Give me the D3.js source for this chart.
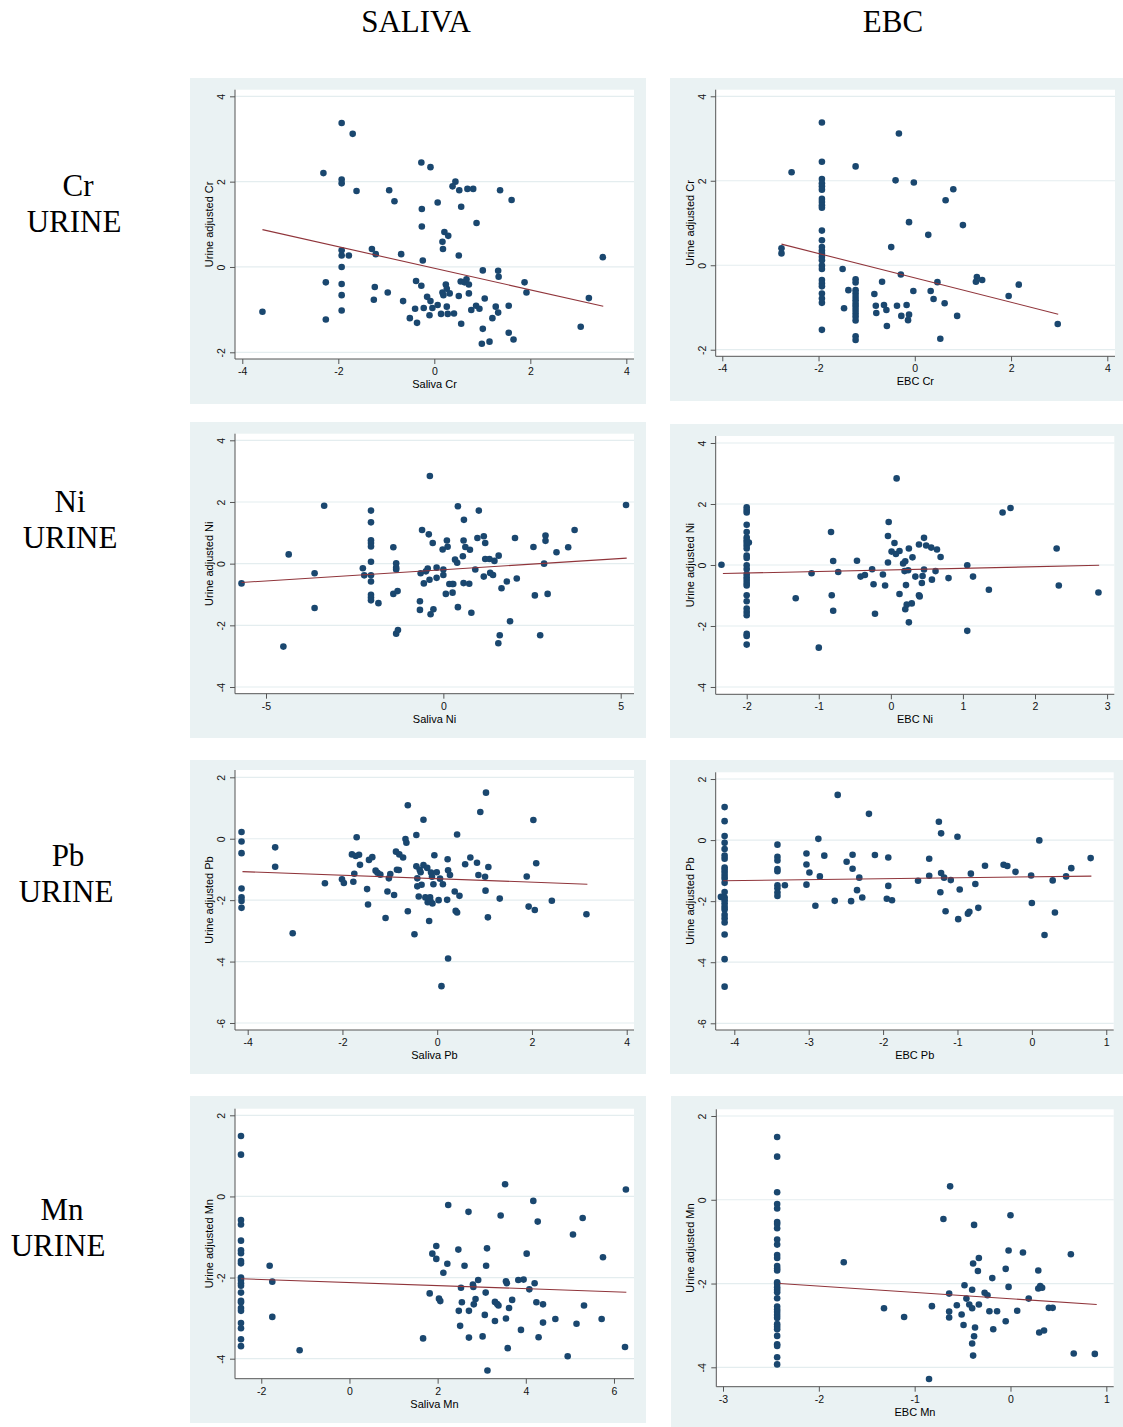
<!DOCTYPE html>
<html>
<head>
<meta charset="utf-8">
<script src="https://cdn.jsdelivr.net/npm/d3@7"></script>
<style>
  body { margin: 0; background: white; }
  svg { display: block; }
</style>
</head>
<body>
<div id="container"></div>
<script>
// column / row headings
const colTitles = ["SALIVA", "EBC"];
const rowMetals = ["Cr", "Ni", "Pb", "Mn"];

// axis titles
const xTitles = ["Saliva Cr", "EBC Cr", "Saliva Ni", "EBC Ni", "Saliva Pb", "EBC Pb", "Saliva Mn", "EBC Mn"];
const yTitles = ["Urine adjusted Cr", "Urine adjusted Cr", "Urine adjusted Ni", "Urine adjusted Ni",
                 "Urine adjusted Pb", "Urine adjusted Pb", "Urine adjusted Mn", "Urine adjusted Mn"];

// tick values
const xTicks = [
  [-4, -2, 0, 2, 4], [-4, -2, 0, 2, 4],
  [-5, 0, 5], [-2, -1, 0, 1, 2, 3],
  [-4, -2, 0, 2, 4], [-4, -3, -2, -1, 0, 1],
  [-2, 0, 2, 4, 6], [-3, -2, -1, 0, 1]
];
const yTicks = [
  [-2, 0, 2, 4], [-2, 0, 2, 4],
  [-4, -2, 0, 2, 4], [-4, -2, 0, 2, 4],
  [-6, -4, -2, 0, 2], [-6, -4, -2, 0, 2],
  [-4, -2, 0, 2], [-4, -2, 0, 2]
];

// scatter points [x, y]
const salivaCr = [[-1.93,3.375],[-1.70,3.12],[-2.31,2.20],[-1.93,2.05],[-1.93,1.96],[-1.62,1.78],[-0.94,1.80],[-0.83,1.54],
  [-0.27,2.45],[-0.08,2.34],[-0.26,1.36],[0.07,1.51],[0.44,2.0],[0.38,1.89],[0.52,1.80],[0.69,1.83],[0.81,1.83],[0.56,1.41],
  [1.37,1.80],[1.61,1.57],[0.88,1.03],[-0.26,0.95],[0.21,0.82],[0.29,0.73],[0.17,0.59],[0.18,0.42],[0.51,0.27],[-0.24,0.15],
  [-0.69,0.30],[-1.30,0.42],[-1.22,0.30],[-1.93,0.39],[-1.93,0.27],[-1.78,0.27],[-1.93,0.0],[-3.58,-1.05],[-2.26,-0.36],
  [-2.26,-1.23],[-1.93,-0.40],[-1.93,-0.66],[-1.93,-1.02],[-1.24,-0.47],[-1.26,-0.77],[-0.97,-0.60],[-0.65,-0.80],[-0.38,-0.33],
  [-0.27,-0.44],[-0.40,-0.98],[-0.36,-1.31],[-0.51,-1.20],[-0.22,-0.96],[-0.15,-0.70],[-0.08,-0.80],[-0.04,-0.96],[-0.10,-1.13],
  [0.07,-0.89],[0.14,-1.10],[0.17,-0.60],[0.19,-0.66],[0.24,-0.41],[0.26,-0.51],[0.32,-0.62],[0.26,-0.93],[0.28,-1.10],
  [0.41,-1.09],[0.51,-0.68],[0.55,-0.34],[0.63,-0.36],[0.67,-0.29],[0.72,-0.41],[0.72,-0.62],[0.56,-1.33],[0.77,-1.01],
  [0.87,-0.91],[0.94,-0.98],[1.01,-0.08],[1.05,-0.74],[1.01,-1.45],[0.99,-1.80],[1.15,-1.75],[1.21,-1.20],[1.28,-0.93],
  [1.33,-0.09],[1.34,-0.23],[1.33,-1.07],[1.55,-0.91],[1.55,-1.54],[1.65,-1.70],[1.88,-0.36],[1.92,-0.60],[3.22,-0.73],
  [3.05,-1.40],[3.51,0.23]];

const ebcCr = [[-1.93,3.38],[-0.33,3.12],[-2.56,2.20],[-1.93,2.45],[-1.23,2.34],[-0.40,2.01],[-0.02,1.96],[0.80,1.80],
  [0.64,1.54],[-0.12,1.02],[1.0,0.95],[0.28,0.72],[-0.49,0.43],[-2.77,0.40],[-2.77,0.28],
  [-1.93,2.04],[-1.93,1.94],[-1.93,1.87],[-1.93,1.79],[-1.93,1.57],[-1.93,1.50],[-1.93,1.42],[-1.93,1.36],[-1.93,0.82],
  [-1.93,0.59],[-1.93,0.43],[-1.93,0.35],[-1.93,0.28],[-1.93,0.20],[-1.93,0.12],[-1.93,-0.01],[-1.93,-0.09],[-1.93,-0.35],
  [-1.93,-0.43],[-1.93,-0.50],[-1.93,-0.67],[-1.93,-0.79],[-1.93,-0.89],[-1.93,-1.53],
  [-1.23,-0.33],[-1.23,-0.41],[-1.23,-0.59],[-1.23,-0.67],[-1.23,-0.75],[-1.23,-0.83],[-1.23,-0.91],[-1.23,-0.98],
  [-1.23,-1.06],[-1.23,-1.14],[-1.23,-1.22],[-1.23,-1.31],[-1.23,-1.68],[-1.23,-1.77],
  [-1.50,-0.09],[-1.38,-0.59],[-1.47,-1.02],[-0.84,-0.68],[-0.81,-0.96],[-0.80,-1.13],[-0.68,-0.39],[-0.64,-0.94],
  [-0.59,-1.06],[-0.58,-1.44],[-0.37,-0.96],[-0.29,-0.22],[-0.28,-1.20],[-0.17,-0.94],[-0.14,-1.30],[-0.12,-1.17],
  [-0.03,-0.61],[0.33,-0.61],[0.39,-0.80],[0.47,-0.40],[0.62,-0.90],[0.53,-1.74],[0.88,-1.20],[1.29,-0.28],[1.27,-0.39],
  [1.40,-0.35],[1.95,-0.73],[2.16,-0.46],[2.97,-1.39]];

const salivaNi = [[-5.69,-0.64],[-4.51,-2.69],[-4.36,0.30],[-3.63,-0.31],[-3.63,-1.44],[-3.36,1.88],[-2.27,-0.15],[-2.23,-0.38],
  [-2.04,1.72],[-2.04,1.34],[-2.04,0.76],[-2.04,0.67],[-2.04,0.56],[-2.04,0.06],[-2.04,-0.38],[-2.04,-0.58],[-2.04,-1.01],
  [-2.04,-1.10],[-2.04,-1.19],[-1.83,-1.28],[-1.41,0.53],[-1.33,0.01],[-1.33,-0.13],[-1.33,-0.19],[-1.41,-0.98],[-1.29,-0.89],
  [-1.33,-2.27],[-1.28,-2.15],[-0.66,-1.22],[-0.66,-1.50],[-0.64,-0.31],[-0.60,1.09],[-0.55,-0.64],[-0.49,-0.25],[-0.44,-0.16],
  [-0.41,0.95],[-0.39,-0.52],[-0.38,2.84],[-0.36,-1.64],[-0.30,0.67],[-0.28,-1.48],[-0.19,-0.13],[-0.19,-0.46],[-0.02,0.46],
  [0,-0.19],[0,-0.37],[0.07,-0.98],[0.10,0.75],[0.12,0.55],[0.17,-0.66],[0.25,-0.66],[0.26,-0.94],[0.28,-0.66],[0.33,0.13],
  [0.39,0.03],[0.41,1.86],[0.41,-1.41],[0.55,0.24],[0.57,0.75],[0.58,1.42],[0.57,-0.63],[0.62,0.54],[0.73,-0.65],[0.75,0.45],
  [0.79,-1.59],[0.90,-0.19],[0.96,0.83],[1.00,1.72],[1.14,0.89],[1.14,-0.42],[1.18,0.67],[1.18,0.15],[1.30,0.15],[1.32,-0.30],
  [1.40,-0.37],[1.44,0.09],[1.56,0.26],[1.55,-2.58],[1.59,-2.32],[1.64,-0.80],[1.79,-0.58],[1.88,-1.87],[2.02,0.83],
  [2.07,-0.48],[2.54,0.54],[2.58,-1.03],[2.73,-2.32],[2.84,0.0],[2.88,0.91],[2.88,0.74],[2.94,-0.98],[3.19,0.37],[3.52,0.53],
  [3.70,1.09],[5.15,1.90]];

const ebcNi = [[-2.35,0.01],
  [-2,1.89],[-2,1.80],[-2,1.72],[-2,1.32],[-2,1.08],[-2,0.90],[-2,0.81],[-2,0.73],[-2,0.64],[-2,0.54],[-2,0.31],[-2,0.23],
  [-2,-0.01],[-2,-0.13],[-2,-0.30],[-2,-0.40],[-2,-0.49],[-2,-0.59],[-2,-0.67],[-2,-0.99],[-2,-1.19],[-2,-1.43],[-2,-1.54],
  [-2,-1.65],[-2,-2.26],[-2,-2.33],[-2,-2.61],[-1.97,0.74],
  [-1.32,-1.09],[-1.10,-0.27],[-1.00,-2.71],[-0.83,1.08],[-0.80,0.13],[-0.82,-0.99],[-0.80,-1.50],[-0.73,-0.23],[-0.47,0.14],
  [-0.42,-0.38],[-0.36,-0.33],[-0.26,-0.14],[-0.24,-0.63],[-0.22,-1.60],[-0.11,-0.31],[-0.08,-0.67],[-0.04,0.08],[-0.04,0.95],
  [-0.03,1.41],[0.01,0.44],[0.05,0.72],[0.07,0.36],[0.08,2.84],[0.12,0.46],[0.12,-0.95],[0.17,0.05],[0.19,-0.20],[0.20,0.12],
  [0.21,-0.66],[0.20,-1.45],[0.22,-1.30],[0.24,-0.17],[0.25,0.54],[0.25,-1.88],[0.29,-1.26],[0.30,0.25],[0.34,-0.38],
  [0.39,0.67],[0.39,-0.99],[0.40,-1.03],[0.43,-0.59],[0.44,-0.36],[0.46,-0.15],[0.46,0.89],[0.49,0.64],[0.56,0.57],
  [0.57,-0.48],[0.62,-0.20],[0.64,0.51],[0.69,0.26],[0.80,-0.43],[1.06,-0.01],[1.06,-2.16],[1.14,-0.38],[1.36,-0.81],
  [1.55,1.72],[1.66,1.87],[2.30,0.54],[2.33,-0.67],[2.88,-0.90]];

const salivaPb = [[-4.13,0.22],[-4.13,-0.09],[-4.13,-0.47],[-4.13,-1.62],[-4.13,-1.91],[-4.13,-2.03],[-4.13,-2.25],
  [-3.42,-0.28],[-3.42,-0.91],[-3.05,-3.08],[-2.37,-1.45],[-2.01,-1.32],[-1.97,-1.44],[-1.80,-0.51],[-1.77,-1.40],
  [-1.75,-1.14],[-1.72,-0.56],[-1.70,0.05],[-1.65,-0.52],[-1.63,-0.85],[-1.48,-1.64],[-1.46,-2.14],[-1.44,-0.69],
  [-1.37,-0.60],[-1.30,-1.04],[-1.26,-1.11],[-1.20,-1.17],[-1.09,-2.58],[-1.05,-1.72],[-1.02,-1.29],[-0.99,-1.15],
  [-0.91,-1.83],[-0.87,-0.42],[-0.85,-1.01],[-0.81,-1.02],[-0.80,-0.51],[-0.72,-0.61],[-0.67,-0.01],[-0.65,-0.13],
  [-0.62,1.09],[-0.62,-2.36],[-0.48,-3.11],[-0.44,0.12],[-0.44,-0.90],[-0.42,-1.29],[-0.42,-1.55],[-0.39,-1.88],
  [-0.37,-1.01],[-0.35,-1.09],[-0.33,-1.50],[-0.29,0.62],[-0.29,-0.86],[-0.25,-1.91],[-0.21,-0.95],[-0.20,-2.07],
  [-0.17,-2.68],[-0.15,-1.91],[-0.14,-2.04],[-0.13,-1.10],[-0.11,-1.24],[-0.10,-2.11],[-0.08,-1.48],[-0.06,-0.54],
  [-0.01,-1.09],[0.03,-2.0],[0.06,-1.30],[0.09,-4.80],[0.12,-1.48],[0.21,-1.99],[0.22,-0.67],[0.23,-1.03],[0.23,-3.90],
  [0.27,-1.18],[0.37,-1.72],[0.39,-2.35],[0.42,-2.40],[0.42,0.14],[0.47,-1.86],[0.59,-0.83],[0.70,-0.61],[0.84,-0.78],
  [0.87,-1.18],[0.91,0.87],[1.01,-1.24],[1.02,-1.69],[1.03,1.50],[1.07,-2.56],[1.08,-0.92],[1.32,-1.95],[1.89,-1.23],
  [1.93,-2.21],[2.03,0.61],[2.06,-2.32],[2.09,-0.80],[2.42,-2.02],[3.15,-2.46]];

const ebcPb = [[-4.13,1.08],[-4.13,0.62],[-4.13,0.13],[-4.13,-0.09],[-4.13,-0.29],[-4.13,-0.51],[-4.13,-0.61],[-4.13,-0.90],
  [-4.13,-0.98],[-4.13,-1.07],[-4.13,-1.17],[-4.13,-1.26],[-4.13,-1.40],[-4.13,-1.70],[-4.13,-1.88],[-4.13,-1.97],
  [-4.13,-2.07],[-4.13,-2.18],[-4.13,-2.27],[-4.13,-2.45],[-4.13,-2.57],[-4.13,-2.70],[-4.13,-3.09],[-4.13,-3.90],
  [-4.13,-4.80],[-4.18,-1.86],
  [-3.42,-0.15],[-3.42,-0.55],[-3.42,-0.67],[-3.42,-0.95],[-3.42,-1.02],[-3.42,-1.48],[-3.42,-1.58],[-3.42,-1.72],[-3.42,-1.83],
  [-3.32,-1.48],[-3.03,-0.44],[-3.03,-0.80],[-3.03,-1.46],[-2.99,-1.06],[-2.91,-2.15],[-2.87,0.04],[-2.85,-1.19],
  [-2.79,-0.51],[-2.65,-1.99],[-2.61,1.48],[-2.49,-0.71],[-2.43,-2.0],[-2.41,-0.48],[-2.41,-0.94],[-2.35,-1.64],
  [-2.32,-1.23],[-2.28,-1.88],[-2.19,0.86],[-2.11,-0.49],[-1.95,-1.92],[-1.93,-0.57],[-1.93,-1.50],[-1.88,-1.97],
  [-1.53,-1.33],[-1.38,-0.61],[-1.38,-1.17],[-1.25,0.60],[-1.22,0.22],[-1.22,-1.08],[-1.23,-1.71],[-1.18,-1.23],
  [-1.16,-2.33],[-1.09,-1.31],[-1.0,0.11],[-0.99,-2.59],[-0.97,-1.62],[-0.86,-2.41],[-0.84,-2.35],[-0.82,-1.10],
  [-0.76,-1.44],[-0.72,-2.22],[-0.63,-0.84],[-0.38,-0.81],[-0.33,-0.85],[-0.22,-1.04],[-0.01,-1.16],[0.0,-2.06],
  [0.10,-0.01],[0.17,-3.11],[0.28,-1.32],[0.31,-2.37],[0.46,-1.19],[0.53,-0.92],[0.79,-0.59]];

const salivaMn = [[-2.46,1.49],[-2.46,1.03],[-2.46,-0.58],[-2.46,-0.69],[-2.46,-1.09],[-2.46,-1.33],[-2.46,-1.40],[-2.46,-1.59],
  [-2.46,-1.65],[-2.46,-2.0],[-2.46,-2.06],[-2.46,-2.14],[-2.46,-2.20],[-2.46,-2.37],[-2.46,-2.57],[-2.46,-2.61],
  [-2.46,-2.75],[-2.46,-2.82],[-2.46,-3.12],[-2.46,-3.25],[-2.46,-3.52],[-2.46,-3.69],
  [-1.81,-1.71],[-1.75,-2.10],[-1.75,-2.97],[-1.13,-3.79],[1.67,-3.50],[1.82,-2.39],[1.88,-1.41],[1.97,-1.22],[1.97,-1.54],
  [2.03,-2.52],[2.06,-2.58],[2.13,-1.88],[2.22,-1.66],[2.24,-0.21],[2.47,-1.31],[2.48,-2.82],[2.51,-3.19],[2.53,-2.25],
  [2.55,-2.61],[2.61,-1.71],[2.70,-0.38],[2.71,-2.82],[2.71,-3.48],[2.80,-2.17],[2.81,-2.23],[2.82,-2.66],[2.86,-2.53],
  [2.92,-2.06],[3.02,-3.45],[3.07,-2.92],[3.09,-2.37],[3.10,-1.71],[3.12,-1.28],[3.13,-4.29],[3.30,-2.60],[3.30,-3.07],
  [3.35,-2.65],[3.38,-2.69],[3.43,-0.47],[3.53,0.30],[3.55,-2.09],[3.57,-2.14],[3.55,-3.01],[3.59,-3.74],[3.62,-2.75],
  [3.69,-2.55],[3.83,-2.06],[3.89,-3.29],[3.95,-2.05],[4.02,-1.41],[4.08,-2.29],[4.17,-0.11],[4.20,-2.14],[4.24,-2.61],
  [4.27,-0.62],[4.29,-3.47],[4.39,-2.66],[4.39,-3.11],[4.67,-3.02],[4.95,-3.94],[5.07,-0.94],[5.15,-3.14],[5.29,-0.53],
  [5.32,-2.69],[5.72,-3.02],[5.75,-1.50],[6.25,-3.71],[6.27,0.17]];

const ebcMn = [[-2.435,1.50],[-2.435,1.03],[-2.435,0.18],[-2.435,-0.10],[-2.435,-0.21],[-2.435,-0.53],[-2.435,-0.58],
  [-2.435,-0.68],[-2.435,-0.95],[-2.435,-1.07],[-2.435,-1.32],[-2.435,-1.39],[-2.435,-1.58],[-2.435,-1.64],[-2.435,-1.69],
  [-2.435,-1.97],[-2.435,-2.01],[-2.435,-2.09],[-2.435,-2.15],[-2.435,-2.21],[-2.435,-2.35],[-2.435,-2.55],[-2.435,-2.62],
  [-2.435,-2.68],[-2.435,-2.75],[-2.435,-2.82],[-2.435,-2.97],[-2.435,-3.03],[-2.435,-3.09],[-2.435,-3.25],[-2.435,-3.45],
  [-2.435,-3.49],[-2.435,-3.76],[-2.435,-3.93],
  [-1.74,-1.49],[-1.32,-2.59],[-1.11,-2.80],[-0.85,-4.28],[-0.82,-2.54],[-0.70,-0.46],[-0.64,-2.81],[-0.64,-2.24],
  [-0.64,-2.67],[-0.63,0.32],[-0.56,-2.52],[-0.51,-2.74],[-0.49,-2.99],[-0.48,-2.04],[-0.46,-2.36],[-0.43,-2.50],
  [-0.40,-2.15],[-0.40,-2.59],[-0.40,-3.43],[-0.39,-1.52],[-0.39,-3.72],[-0.38,-0.60],[-0.38,-3.26],[-0.37,-3.05],
  [-0.34,-1.70],[-0.33,-1.39],[-0.33,-2.50],[-0.27,-2.22],[-0.24,-2.28],[-0.22,-2.66],[-0.19,-1.87],[-0.18,-3.09],
  [-0.14,-2.66],[-0.05,-1.65],[-0.05,-2.90],[-0.02,-1.21],[-0.02,-2.08],[0.0,-0.37],[0.07,-2.65],[0.13,-1.26],
  [0.19,-2.36],[0.29,-1.69],[0.29,-2.12],[0.30,-3.17],[0.31,-2.06],[0.33,-2.10],[0.35,-3.12],[0.40,-2.58],[0.44,-2.58],
  [0.63,-1.30],[0.66,-3.67],[0.88,-3.68]];

// fitted line end points [x, y]
const fitSalivaCr = [[-3.58, 0.875], [3.52, -0.92]];
const fitEbcCr = [[-2.77, 0.50], [2.98, -1.16]];
const fitSalivaNi = [[-5.69, -0.61], [5.17, 0.18]];
const fitEbcNi = [[-2.33, -0.28], [2.89, -0.01]];
const fitSalivaPb = [[-4.11, -1.07], [3.17, -1.48]];
const fitEbcPb = [[-4.15, -1.33], [0.80, -1.18]];
const fitSalivaMn = [[-2.46, -2.03], [6.28, -2.36]];
const fitEbcMn = [[-2.41, -2.0], [0.90, -2.50]];

const points = [salivaCr, ebcCr, salivaNi, ebcNi, salivaPb, ebcPb, salivaMn, ebcMn];
const fits = [fitSalivaCr, fitEbcCr, fitSalivaNi, fitEbcNi, fitSalivaPb, fitEbcPb, fitSalivaMn, fitEbcMn];

// layout: outer box, plot region, axis ranges (pixels)
const layout = [
  { box: [190, 78, 646, 404],   plot: [235, 89.7, 634, 359],       xd: [-4.152, 4.16],  yd: [-2.157, 4.155] },
  { box: [670, 78, 1123, 401],  plot: [715.7, 89.7, 1115, 356.3],  xd: [-4.137, 4.16],  yd: [-2.156, 4.156] },
  { box: [190, 422, 646, 738],  plot: [235, 433.7, 634, 693.7],    xd: [-5.874, 5.375], yd: [-4.217, 4.214] },
  { box: [670, 424, 1123, 738], plot: [715.7, 436, 1114.3, 694.3], xd: [-2.43, 3.10],   yd: [-4.24, 4.23] },
  { box: [190, 760, 646, 1074], plot: [235, 770, 634, 1030],       xd: [-4.268, 4.154], yd: [-6.228, 2.238] },
  { box: [670, 760, 1123, 1074], plot: [715.7, 772.3, 1113.7, 1030], xd: [-4.25, 1.10], yd: [-6.22, 2.22] },
  { box: [190, 1096, 646, 1423], plot: [235, 1108.7, 634, 1378.7], xd: [-2.596, 6.454], yd: [-4.493, 2.163] },
  { box: [671, 1096, 1123, 1427], plot: [716.3, 1109.3, 1113.7, 1386.7], xd: [-3.07, 1.077], yd: [-4.463, 2.16] }
];

const colTitlePos = [416, 893];
const rowLabelPos = [
  { metal: [78, 196], urine: [74, 232] },
  { metal: [70, 512], urine: [70, 548] },
  { metal: [68, 866], urine: [66, 902] },
  { metal: [62, 1220], urine: [58, 1256] }
];

const bgColor = "#EAF2F3";
const gridColor = "#E4EDEF";
const markerColor = "#1A476F";
const fitColor = "#90353B";
const axisColor = "#555";
const sansFont = "'Liberation Sans', Arial, Helvetica, sans-serif";
const serifFont = "'Liberation Serif', 'Times New Roman', serif";

// plain labels with an ascii hyphen minus
const tickFmt = d => String(d);

let svg = d3.select("#container")
  .append("svg")
  .attr("width", 1123)
  .attr("height", 1427)
  .style("background-color", "white");

// column titles
svg.selectAll(".colTitle").data(colTitles).enter()
  .append("text")
  .attr("class", "colTitle")
  .attr("x", (d, i) => colTitlePos[i])
  .attr("y", 32)
  .attr("text-anchor", "middle")
  .style("font-family", serifFont)
  .style("font-size", "31px")
  .text(d => d);

// row labels
rowMetals.forEach(function(m, i){
  let p = rowLabelPos[i];
  svg.append("text")
    .attr("x", p.metal[0]).attr("y", p.metal[1])
    .attr("text-anchor", "middle")
    .style("font-family", serifFont).style("font-size", "31px")
    .text(m);
  svg.append("text")
    .attr("x", p.urine[0]).attr("y", p.urine[1])
    .attr("text-anchor", "middle")
    .style("font-family", serifFont).style("font-size", "31px")
    .text("URINE");
});

for (let i = 0; i < layout.length; i++){
  drawPanel(i);
}

function drawPanel(i){
  let L = layout[i];
  let [px0, py0, px1, py1] = L.plot;
  let g = svg.append("g").attr("class", "panel panel" + i);

  // outer graph region
  g.append("rect")
    .attr("x", L.box[0]).attr("y", L.box[1])
    .attr("width", L.box[2] - L.box[0])
    .attr("height", L.box[3] - L.box[1])
    .attr("fill", bgColor);

  // plot region
  g.append("rect")
    .attr("x", px0).attr("y", py0)
    .attr("width", px1 - px0).attr("height", py1 - py0)
    .attr("fill", "white");

  let x = d3.scaleLinear().domain(L.xd).range([px0, px1]);
  let y = d3.scaleLinear().domain(L.yd).range([py1, py0]);

  // grid lines
  g.selectAll(".grid").data(yTicks[i]).enter()
    .append("line")
    .attr("class", "grid")
    .attr("x1", px0).attr("x2", px1)
    .attr("y1", d => y(d)).attr("y2", d => y(d))
    .attr("stroke", gridColor)
    .attr("stroke-width", 1.2);

  // x axis
  let xAxis = d3.axisBottom(x).tickValues(xTicks[i]).tickFormat(tickFmt)
    .tickSize(5).tickPadding(4).tickSizeOuter(0);
  let gx = g.append("g").attr("transform", "translate(0," + py1 + ")").call(xAxis);
  gx.select(".domain").attr("d", "M" + px0 + ",0H" + px1).attr("stroke", axisColor);
  gx.selectAll(".tick line").attr("stroke", axisColor);
  gx.selectAll(".tick text")
    .attr("y", 16).attr("dy", null)
    .style("font-family", sansFont).style("font-size", "10.5px").attr("fill", "#111");

  // y axis
  let yAxis = d3.axisLeft(y).tickValues(yTicks[i]).tickFormat(tickFmt)
    .tickSize(5).tickSizeOuter(0);
  let gy = g.append("g").attr("transform", "translate(" + px0 + ",0)").call(yAxis);
  gy.select(".domain").attr("d", "M0," + py1 + "V" + py0).attr("stroke", axisColor);
  gy.selectAll(".tick line").attr("stroke", axisColor);
  gy.selectAll(".tick text")
    .attr("x", null).attr("dy", null)
    .attr("text-anchor", "middle")
    .attr("transform", "translate(-10,0) rotate(-90)")
    .style("font-family", sansFont).style("font-size", "10.5px").attr("fill", "#111");

  // axis titles
  g.append("text")
    .attr("x", (px0 + px1) / 2).attr("y", py1 + 29)
    .attr("text-anchor", "middle")
    .style("font-family", sansFont).style("font-size", "11px")
    .text(xTitles[i]);
  g.append("text")
    .attr("transform", "translate(" + (px0 - 22) + "," + ((py0 + py1) / 2) + ") rotate(-90)")
    .attr("text-anchor", "middle")
    .style("font-family", sansFont).style("font-size", "11px")
    .text(yTitles[i]);

  // markers
  g.selectAll(".dot").data(points[i]).enter()
    .append("circle")
    .attr("class", "dot")
    .attr("cx", d => x(d[0]))
    .attr("cy", d => y(d[1]))
    .attr("r", 3.3)
    .attr("fill", markerColor);

  // fitted values line
  let line = d3.line().x(d => x(d[0])).y(d => y(d[1]));
  g.append("path")
    .datum(fits[i])
    .attr("d", line)
    .attr("fill", "none")
    .attr("stroke", fitColor)
    .attr("stroke-width", 1.1);
}
</script>
</body>
</html>
